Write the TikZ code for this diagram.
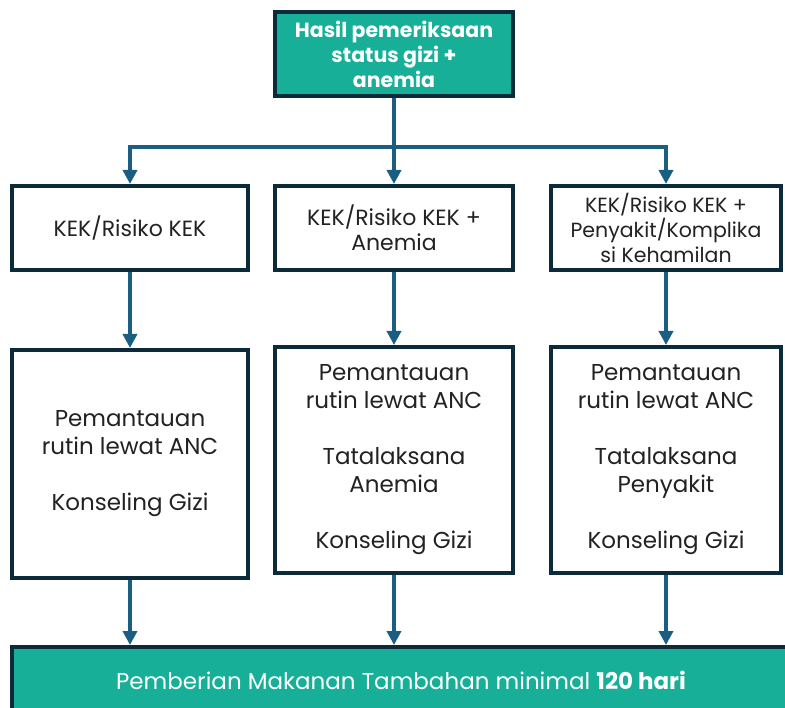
\documentclass[tikz,border=0pt]{standalone}
\usepackage{fontspec}
\setmainfont{Poppins}
\usetikzlibrary{arrows.meta}
\definecolor{hijau}{HTML}{17AF97}
\definecolor{bingkai}{HTML}{0D2A3B}
\definecolor{panah}{HTML}{1A5F82}
\definecolor{teks}{HTML}{222222}
\tikzset{
    kotak/.style={draw=bingkai, line width=4pt, fill=white, text=teks, align=center,
        font=\fontsize{22}{25}\selectfont},
    kotakhijau/.style={kotak, fill=hijau, text=white},
    garis/.style={draw=panah, line width=3.5pt},
}
\begin{document}
\begin{tikzpicture}[x=1pt, y=-1pt, >={Triangle[length=14pt,width=14pt]}]
    \useasboundingbox (0,0) rectangle (785,708);
    % Kotak atas
    \node[kotakhijau, minimum width=238pt, minimum height=84pt, font=\bfseries\fontsize{20.5}{25}\selectfont]
        (hasil) at (394,54) {Hasil pemeriksaan\\status gizi +\\anemia};
    % Baris kategori
    \node[kotak, minimum width=236pt, minimum height=84pt] (kek) at (130,228) {KEK/Risiko KEK};
    \node[kotak, minimum width=238pt, minimum height=84pt] (kekanemia) at (394,228) {KEK/Risiko KEK +\\Anemia};
    \node[kotak, minimum width=230pt, minimum height=84pt, font=\fontsize{20.5}{25}\selectfont]
        (kekpenyakit) at (666,228) {KEK/Risiko KEK +\\Penyakit/Komplika\\si Kehamilan};
    % Baris tindakan
    \node[kotak, minimum width=236pt, minimum height=228pt, font=\fontsize{23}{28}\selectfont]
        (tindak1) at (130,464) {Pemantauan\\rutin lewat ANC\\[28pt]Konseling Gizi};
    \node[kotak, minimum width=238pt, minimum height=226pt, font=\fontsize{23}{28}\selectfont]
        (tindak2) at (394,460) {Pemantauan\\rutin lewat ANC\\[28pt]Tatalaksana\\Anemia\\[28pt]Konseling Gizi};
    \node[kotak, minimum width=230pt, minimum height=226pt, font=\fontsize{23}{28}\selectfont]
        (tindak3) at (666,460) {Pemantauan\\rutin lewat ANC\\[28pt]Tatalaksana\\Penyakit\\[28pt]Konseling Gizi};
    % Kotak bawah
    \node[kotakhijau, minimum width=778pt, minimum height=66pt, font=\fontsize{23}{28}\selectfont]
        (pmt) at (401,680) {Pemberian Makanan Tambahan minimal \textbf{120 hari}};
    % Panah
    \coordinate (cabang) at (394,147);
    \draw[garis, ->] (hasil) -- (kekanemia);
    \draw[garis, ->] (cabang) -| (kek.north);
    \draw[garis, ->] (cabang) -| (kekpenyakit.north);
    \draw[garis, ->] (kek) -- (tindak1);
    \draw[garis, ->] (kekanemia) -- (tindak2);
    \draw[garis, ->] (kekpenyakit) -- (tindak3);
    \foreach \t in {tindak1,tindak2,tindak3}
        \draw[garis, ->] (\t.south) -- (\t.south |- pmt.north);
\end{tikzpicture}
\end{document}
